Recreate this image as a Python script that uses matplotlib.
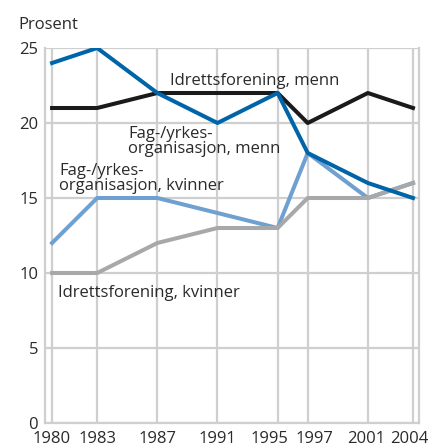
import matplotlib
matplotlib.use("Agg")
import matplotlib.pyplot as plt
from matplotlib.transforms import ScaledTranslation

plt.rcParams['font.family'] = ['Open Sans', 'DejaVu Sans']

years = [1980, 1983, 1987, 1991, 1995, 1997, 2001, 2004]
idrett_menn = [21, 21, 22, 22, 22, 20, 22, 21]
fag_menn = [24, 25, 22, 20, 22, 18, 16, 15]
fag_kvinner = [12, 15, 15, 14, 13, 18, 15, 16]
idrett_kvinner = [10, 10, 12, 13, 13, 15, 15, 16]
yticks = [0, 5, 10, 15, 20, 25]

grid_col = '#cfcfcf'
txt_col = '#2a2a2a'
fs = 12

fig = plt.figure(figsize=(4.34, 4.48), dpi=100)
ax = fig.add_axes([45/434, 1 - 423/448, 374/434, 375/448])

ax.set_xlim(1979.53, 2004.4)
ax.set_ylim(0, 25)

# grid drawn as plain lines at the tick positions
for yr in years:
    ax.axvline(yr, color=grid_col, lw=1.6, zorder=1)
for v in yticks:
    ax.axhline(v, color=grid_col, lw=1.6, zorder=1)

lw = 2.9
ax.plot(years, fag_kvinner, color='#6fa0cf', lw=lw, zorder=3)
ax.plot(years, idrett_kvinner, color='#a7a8aa', lw=lw, zorder=4)
ax.plot(years, idrett_menn, color='#1a1a1a', lw=lw, zorder=5)
ax.plot(years, fag_menn, color='#0065a8', lw=lw, zorder=6)

ax.set_xticks(years)
ax.set_yticks(yticks)
ax.tick_params(length=0, labelsize=fs, colors=txt_col)
ax.tick_params(axis='y', pad=5)
ax.tick_params(axis='x', pad=6)
for side in ['left', 'right', 'bottom']:
    ax.spines[side].set_color(grid_col)
    ax.spines[side].set_linewidth(1.6)
ax.spines['top'].set_visible(False)

# nudge crowded year labels apart (pixels)
shifts = {1995: -8, 1997: 7, 2001: -2, 2004: -4}
for yr, lab in zip(years, ax.get_xticklabels()):
    dx = shifts.get(yr, 0)
    if dx:
        lab.set_transform(lab.get_transform() + ScaledTranslation(dx / 100, 0, fig.dpi_scale_trans))

labels = [
    (1987.84, 22.53, 'Idrettsforening, menn'),
    (1985.07, 19.0, 'Fag-/yrkes-'),
    (1985.07, 18.0, 'organisasjon, menn'),
    (1980.48, 16.53, 'Fag-/yrkes-'),
    (1980.48, 15.53, 'organisasjon, kvinner'),
    (1980.41, 8.4, 'Idrettsforening, kvinner'),
]
for x, y, s in labels:
    ax.text(x, y, s, fontsize=fs, color=txt_col, va='baseline', zorder=7)

fig.text(18/434, 1 - 29/448, 'Prosent', fontsize=fs, color=txt_col, va='baseline')

fig.savefig('out.png', dpi=100)
